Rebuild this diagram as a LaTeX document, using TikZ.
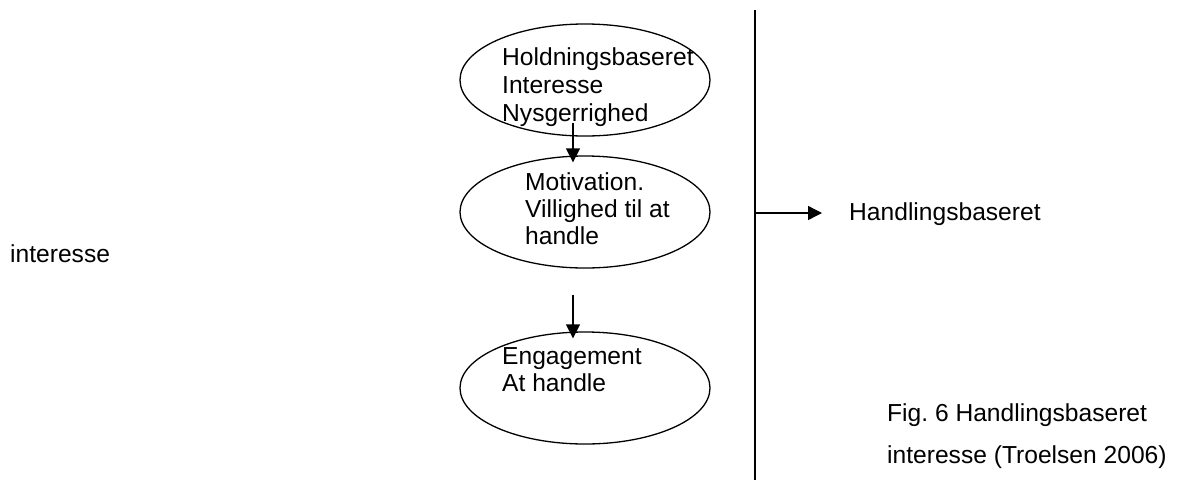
\documentclass[tikz,border=0pt]{standalone}
\usepackage{fontspec}
\setmainfont{Liberation Sans}
\frenchspacing
\usetikzlibrary{shapes.geometric,arrows.meta}
\begin{document}
\begin{tikzpicture}[x=1pt,y=-1pt,
  every node/.style={font=\fontsize{24.6}{27}\selectfont},
  stage/.style={draw,line width=1.3pt,ellipse,minimum width=250pt,minimum height=112pt,inner sep=0pt},
  lbl/.style={anchor=base west,inner sep=0pt},
  arr/.style={line width=1.3pt,-{Triangle[length=14pt,width=14pt]}}]
\useasboundingbox (0,0) rectangle (1177,480);

% the three stages
\node[stage] (e1) at (585,80) {};
\node[stage] (e2) at (585,212) {};
\node[stage] (e3) at (585,388) {};

\node[lbl] (t1a) at (502,65) {Holdningsbaseret};
\node[lbl] (t1b) at (502,93) {Interesse};
\node[lbl] (t1c) at (502,121) {Nysgerrighed};

\node[lbl] (t2a) at (525,190) {Motivation.};
\node[lbl] (t2b) at (525,217) {Villighed til at};
\node[lbl] (t2c) at (525,244) {handle};

\node[lbl] (t3a) at (502,364) {Engagement};
\node[lbl] (t3b) at (502,391) {At handle};

% arrows between the stages
\draw[arr] ([xshift=-12pt,yshift=14pt]e1.south) -- ([xshift=-12pt,yshift=-7pt]e2.north);
\draw[arr] ([xshift=-12pt,yshift=-26pt]e2.south) -- ([xshift=-12pt,yshift=-7pt]e3.north);

% dividing line and branch
\coordinate (vtop) at (755,10);
\coordinate (vbot) at (755,480);
\draw[line width=1.3pt] (vtop) -- (vbot);
\node[lbl] (hb) at (849,220) {Handlingsbaseret};
\coordinate (split) at (755,213);
\coordinate (tip) at ([xshift=-27pt]hb.west);
\draw[arr] (split) -- (split -| tip);

\node[lbl] (left) at (10,262) {interesse};

% caption
\node[lbl] (cap1) at (887,421) {Fig. 6 Handlingsbaseret};
\node[lbl] (cap2) at (887,463) {interesse (Troelsen 2006)};
\end{tikzpicture}
\end{document}
